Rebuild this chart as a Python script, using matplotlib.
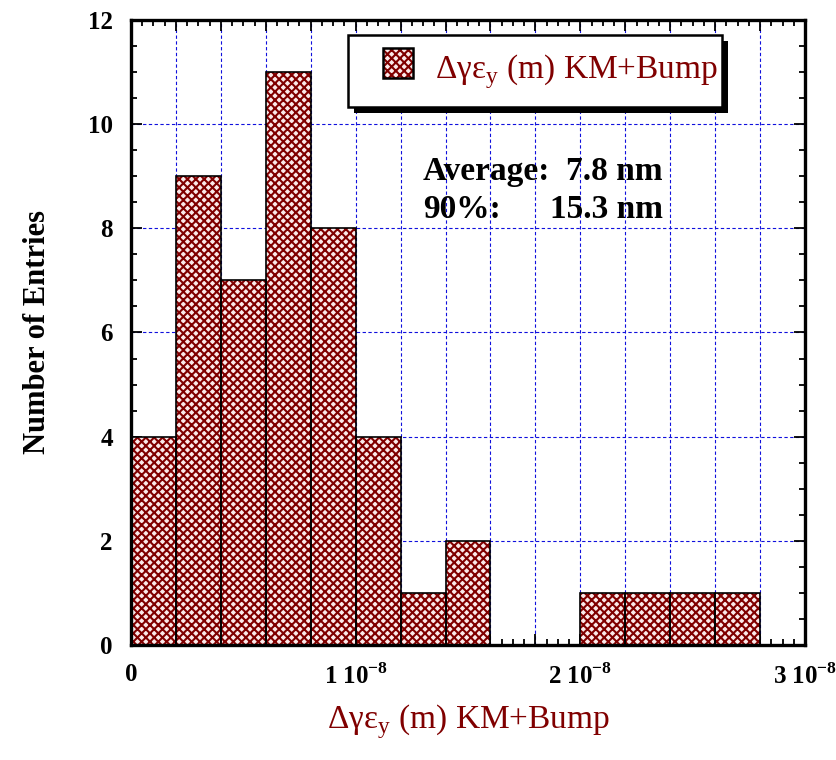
import numpy as np
import matplotlib
matplotlib.use("Agg")
import matplotlib.pyplot as plt
import matplotlib.patches as mpatches
from matplotlib.ticker import MultipleLocator, FuncFormatter

plt.rcParams['font.family'] = ['Liberation Serif', 'DejaVu Serif']
plt.rcParams['mathtext.fontset'] = 'custom'
plt.rcParams['mathtext.rm'] = 'Liberation Serif'
plt.rcParams['mathtext.bf'] = 'Liberation Serif:bold'
plt.rcParams['hatch.linewidth'] = 1.5

# histogram data (bin width 2e-9 m)
bin_edges = np.arange(0, 15) * 2e-9
counts = [4, 9, 7, 11, 8, 4, 1, 2, 0, 0, 1, 1, 1, 1]

label = "\u0394\u03b3\u03b5$_{\\mathrm{y}}$ (m) KM+Bump"
avg_label, avg_value = "Average:", "7.8 nm"
p90_label, p90_value = "90%:", "15.3 nm"

darkred = "#800000"
fill = "#fbeaea"
hatch = 'xxxx'

fig = plt.figure(figsize=(8.37, 7.6), dpi=100)
ax = fig.add_axes([0.1565, 0.1513, 0.8053, 0.8224])

# hatched fill then black outlines
ax.bar(bin_edges[:-1], counts, width=np.diff(bin_edges), align='edge',
       facecolor=fill, edgecolor=darkred, hatch=hatch,
       linewidth=0, zorder=2)
ax.bar(bin_edges[:-1], counts, width=np.diff(bin_edges), align='edge',
       fill=False, edgecolor='black', linewidth=1.2, zorder=3)

ax.set_xlim(0, 3e-8)
ax.set_ylim(0, 12)

ax.xaxis.set_major_locator(MultipleLocator(2e-9))
ax.xaxis.set_minor_locator(MultipleLocator(5e-10))
ax.yaxis.set_major_locator(MultipleLocator(2))
ax.yaxis.set_minor_locator(MultipleLocator(0.5))


def xfmt(v, pos):
    n = int(round(v / 1e-8 * 10))
    if n % 10 != 0:
        return ""
    n //= 10
    if n == 0:
        return "0"
    return "%d 10$^{\\mathbf{-8}}$" % n


ax.xaxis.set_major_formatter(FuncFormatter(xfmt))

ax.grid(True, which='major', color='#1010dd', linestyle=(0, (3, 2.2)),
        linewidth=0.8, zorder=1)
ax.set_axisbelow(True)

ax.tick_params(which='both', direction='in', top=True, right=True, width=1.3)
ax.tick_params(which='major', length=8, labelsize=18)
ax.tick_params(axis='x', which='major', pad=13)
ax.tick_params(axis='y', which='major', pad=13)
ax.tick_params(which='minor', length=4.5)
for lab in ax.get_xticklabels() + ax.get_yticklabels():
    lab.set_fontweight('bold')
for s in ax.spines.values():
    s.set_linewidth(2.4)

ax.set_ylabel("Number of Entries", fontsize=22, fontweight='bold', labelpad=26)
ax.set_xlabel(label, fontsize=24, color=darkred, labelpad=10)

# statistics text
ax.text(0.433, 0.757, avg_label, transform=ax.transAxes, fontsize=24,
        fontweight='bold', va='center', ha='left', zorder=5)
ax.text(0.789, 0.757, avg_value, transform=ax.transAxes, fontsize=24,
        fontweight='bold', va='center', ha='right', zorder=5)
ax.text(0.433, 0.696, p90_label, transform=ax.transAxes, fontsize=24,
        fontweight='bold', va='center', ha='left', zorder=5)
ax.text(0.789, 0.696, p90_value, transform=ax.transAxes, fontsize=24,
        fontweight='bold', va='center', ha='right', zorder=5)

# legend box with drop shadow
bx0, by0, bw, bh = 0.322, 0.861, 0.555, 0.115
dx, dy = 6 / 674, -6 / 625
ax.add_patch(mpatches.Rectangle((bx0 + dx, by0 + dy), bw, bh,
                                transform=ax.transAxes, facecolor='black',
                                edgecolor='none', zorder=6, clip_on=False))
ax.add_patch(mpatches.Rectangle((bx0, by0), bw, bh, transform=ax.transAxes,
                                facecolor='white', edgecolor='black',
                                linewidth=1.8, zorder=7, clip_on=False))
ax.add_patch(mpatches.Rectangle((0.374, 0.907), 0.045, 0.048,
                                transform=ax.transAxes, facecolor=fill,
                                edgecolor=darkred, hatch=hatch, linewidth=0,
                                zorder=8))
ax.add_patch(mpatches.Rectangle((0.374, 0.907), 0.045, 0.048,
                                transform=ax.transAxes, fill=False,
                                edgecolor='black', linewidth=1.8, zorder=9))
ax.text(0.451, 0.907, label, transform=ax.transAxes, fontsize=24,
        color=darkred, va='baseline', ha='left', zorder=9)

fig.savefig("out.png", dpi=100)
